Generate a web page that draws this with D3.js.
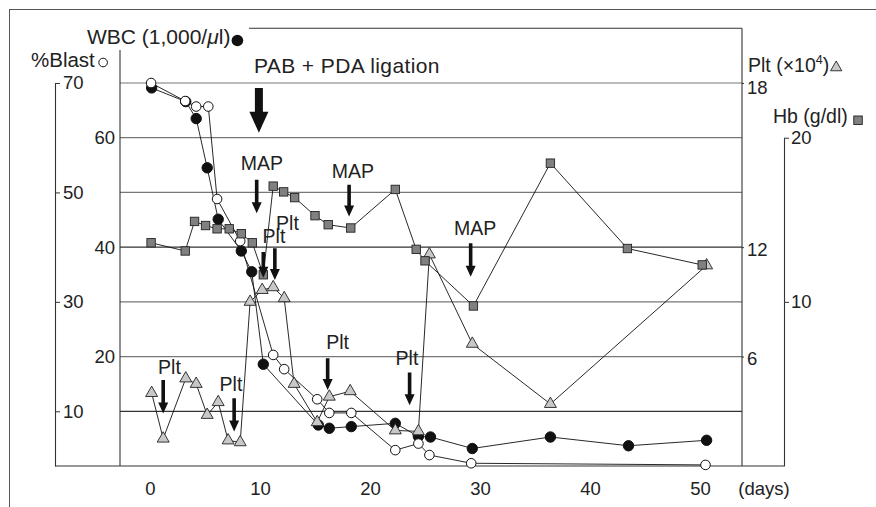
<!DOCTYPE html>
<html><head><meta charset="utf-8">
<script src="https://cdn.jsdelivr.net/npm/d3@7"></script>
<style>
html,body{margin:0;padding:0;background:#fff;}
svg text{font-family:"Liberation Sans",Arial,Helvetica,sans-serif;fill:#222;}
</style></head>
<body>
<svg id="chart" width="876" height="507"></svg>
<script>
// ---- data ----
const blastDays = [0.1, 3.2, 4.2, 5.3, 6.1, 8.2, 11.2, 12.2, 15.2, 16.3, 18.3, 22.3, 24.4, 25.4, 29.2, 50.5];
const blastVals = [70.0, 66.7, 65.7, 65.7, 48.8, 41.1, 20.3, 17.7, 12.2, 9.7, 9.7, 2.9, 4.1, 2.0, 0.5, 0.2];

const wbcDays = [0.15, 3.25, 4.2, 5.2, 6.2, 8.3, 9.25, 10.3, 15.3, 16.3, 18.3, 22.3, 24.4, 25.5, 29.3, 36.4, 43.5, 50.6];
const wbcVals = [69.1, 66.6, 63.5, 54.5, 45.1, 39.3, 35.5, 18.6, 7.5, 6.9, 7.2, 7.8, 5.4, 5.3, 3.2, 5.3, 3.7, 4.7];

const pltDays = [0.15, 1.2, 3.25, 4.2, 5.2, 6.2, 7.1, 8.2, 9.1, 10.2, 11.2, 12.2, 13.1, 15.2, 16.3, 18.2, 22.3, 24.4, 25.4, 29.3, 36.4, 50.6];
const pltVals = [4.0, 1.5, 4.8, 4.5, 2.8, 3.5, 1.4, 1.3, 9.0, 9.65, 9.8, 9.2, 4.5, 2.4, 3.8, 4.1, 1.95, 1.9, 11.6, 6.7, 3.4, 11.0];

const hbDays = [0.1, 3.2, 4.05, 5.05, 6.1, 7.2, 8.3, 9.3, 10.3, 11.2, 12.15, 13.15, 15.0, 16.2, 18.25, 22.3, 24.2, 25.0, 29.4, 36.4, 43.4, 50.2];
const hbVals = [13.6, 13.1, 14.9, 14.65, 14.45, 14.45, 14.15, 13.6, 11.65, 17.05, 16.7, 16.35, 15.25, 14.7, 14.5, 16.85, 13.2, 12.5, 9.75, 18.45, 13.25, 12.25];

const xTicks = [0, 10, 20, 30, 40, 50];
const leftOuterTicks = [10, 30, 50, 70];
const leftInnerTicks = [20, 40, 60];
const gridVals = [10, 20, 30, 40, 50, 60, 70];
const pltTicks = [6, 12, 18];
const hbTicks = [10, 20];

// annotations: label, arrow day, arrow tail value, arrow tip value, label day, label value (left scale)
const annLabels = ["MAP", "MAP", "MAP", "Plt", "Plt", "Plt", "Plt", "Plt", "Plt"];
const annDays   = [9.7, 18.1, 29.15, 1.2, 7.65, 10.3, 11.35, 16.15, 23.6];
const annTails  = [52.3, 51.4, 40.7, 15.7, 12.4, 39.1, 39.8, 19.7, 17.1];
const annTips   = [46.2, 45.6, 34.6, 9.6, 6.3, 34.4, 34.0, 13.9, 11.1];
const annLblDay = [10.18, 18.45, 29.55, 1.77, 7.36, 11.27, 12.5, 17.05, 23.36];
const annLblVal = [54.1, 52.6, 42.2, 16.8, 13.7, 40.7, 43.1, 21.3, 18.5];

// ---- scales ----
const svg = d3.select("#chart");
const x = d3.scaleLinear().domain([0, 50]).range([150, 700]);
const yL = d3.scaleLinear().domain([0, 70]).range([466, 83]);
const yPlt = d3.scaleLinear().domain([0, 12, 18]).range([yL(0), yL(40), yL(70)]);
const yHb = d3.scaleLinear().domain([0, 20]).range([yL(0), yL(60)]);

const plotL = 120, plotR = 742, hbX = 784, outerX = 55;

// outer frame
svg.append("rect").attr("x", 9.5).attr("y", 9.5).attr("width", 900).attr("height", 600)
  .attr("fill", "none").attr("stroke", "#555").attr("stroke-width", 1);

// gridlines
svg.append("g").selectAll("line").data(gridVals).join("line")
  .attr("x1", plotL).attr("x2", plotR)
  .attr("y1", d => yL(d)).attr("y2", d => yL(d))
  .attr("stroke", d => (d === 40 || d === 10) ? "#333" : "#777")
  .attr("stroke-width", 1.2);

// plot box
const frame = svg.append("g").attr("stroke", "#333").attr("stroke-width", 1.1);
frame.append("line").attr("x1", 249).attr("x2", plotR).attr("y1", yL(80)).attr("y2", yL(80));
frame.append("line").attr("x1", plotL).attr("x2", plotL).attr("y1", 50).attr("y2", yL(0));
frame.append("line").attr("x1", plotR).attr("x2", plotR).attr("y1", yL(80)).attr("y2", yL(0));
frame.append("line").attr("x1", outerX).attr("x2", hbX).attr("y1", yL(0)).attr("y2", yL(0));

// left outer axis (%Blast)
const axOuter = svg.append("g").attr("transform", `translate(${outerX},0)`)
  .call(d3.axisRight(yL).tickValues(leftOuterTicks).tickSize(5).tickSizeOuter(0).tickPadding(3));
// left inner axis (WBC)
const axInner = svg.append("g").attr("transform", `translate(${plotL},0)`)
  .call(d3.axisLeft(yL).tickValues(leftInnerTicks).tickSize(0).tickPadding(5));
axInner.select(".domain").remove();
// Plt axis
const axPlt = svg.append("g").attr("transform", `translate(${plotR},0)`)
  .call(d3.axisRight(yPlt).tickValues(pltTicks).tickSize(2).tickSizeOuter(0).tickPadding(3));
axPlt.select(".domain").remove();
// Hb axis
const axHb = svg.append("g").attr("transform", `translate(${hbX},0)`)
  .call(d3.axisRight(yHb).tickValues(hbTicks).tickSize(5).tickSizeOuter(0).tickPadding(2));
// X axis
const axX = svg.append("g").attr("transform", `translate(0,${yL(0)})`)
  .call(d3.axisBottom(x).tickValues(xTicks).tickSize(0).tickPadding(16));
axX.select(".domain").remove();

[axOuter, axInner, axPlt, axHb, axX].forEach(g => {
  g.attr("font-family", null).attr("font-size", null);
  g.selectAll("text").attr("font-size", 18.5).attr("fill", "#222");
  g.selectAll("line").attr("stroke", "#333");
  g.selectAll(".domain").attr("stroke", "#333").attr("stroke-width", 1.1);
});
axPlt.selectAll(".tick text").attr("dy", (d) => d === 18 ? "0.55em" : "0.45em");

svg.append("text").attr("x", 764).attr("y", 495).attr("text-anchor", "middle")
  .attr("font-size", 18.5).text("(days)");

// ---- lines ----
const lineG = svg.append("g").attr("fill", "none").attr("stroke", "#111").attr("stroke-width", 0.9);
function drawLine(days, vals, ys) {
  lineG.append("path")
    .attr("d", d3.line().x((d, i) => x(days[i])).y((d, i) => ys(vals[i]))(vals));
}
drawLine(hbDays, hbVals, yHb);
drawLine(pltDays, pltVals, yPlt);
drawLine(blastDays, blastVals, yL);
drawLine(wbcDays, wbcVals, yL);

// ---- markers ----
svg.append("g").selectAll("circle").data(wbcVals).join("circle")
  .attr("cx", (d, i) => x(wbcDays[i])).attr("cy", d => yL(d)).attr("r", 5.2)
  .attr("fill", "#111").attr("stroke", "#111");
svg.append("g").selectAll("circle").data(blastVals).join("circle")
  .attr("cx", (d, i) => x(blastDays[i])).attr("cy", d => yL(d)).attr("r", 4.8)
  .attr("fill", "#fff").attr("stroke", "#111").attr("stroke-width", 1);
const tri = d3.symbol().type(d3.symbolTriangle).size(62);
svg.append("g").selectAll("path").data(pltVals).join("path")
  .attr("d", tri)
  .attr("transform", (d, i) => `translate(${x(pltDays[i])},${yPlt(d)})`)
  .attr("fill", "#c8c8c8").attr("stroke", "#222").attr("stroke-width", 0.9);
svg.append("g").selectAll("rect").data(hbVals).join("rect")
  .attr("x", (d, i) => x(hbDays[i]) - 4.2).attr("y", d => yHb(d) - 4.2)
  .attr("width", 8.4).attr("height", 8.4)
  .attr("fill", "#808080").attr("stroke", "#222").attr("stroke-width", 0.9);

// ---- arrows ----
function arrowPath(cx, top, tip, w, hw, hl) {
  return `M${cx - w / 2},${top}L${cx + w / 2},${top}L${cx + w / 2},${tip - hl}L${cx + hw / 2},${tip - hl}` +
    `L${cx},${tip}L${cx - hw / 2},${tip - hl}L${cx - w / 2},${tip - hl}Z`;
}
const annG = svg.append("g");
annLabels.forEach((lbl, i) => {
  annG.append("path")
    .attr("d", arrowPath(x(annDays[i]), yL(annTails[i]), yL(annTips[i]), 3.6, 10, 11))
    .attr("fill", "#111");
  annG.append("text").attr("x", x(annLblDay[i])).attr("y", yL(annLblVal[i]))
    .attr("text-anchor", "middle").attr("font-size", 19.5).text(lbl);
});
// PAB + PDA ligation
annG.append("path").attr("d", arrowPath(x(9.9), yL(69.1), yL(60.9), 8, 19, 21)).attr("fill", "#111");
annG.append("text").attr("x", x(9.45)).attr("y", yL(71.8)).attr("font-size", 21)
  .attr("letter-spacing", 0.4).text("PAB + PDA ligation");

// ---- axis titles / legend labels ----
const wbcT = svg.append("text").attr("x", 87).attr("y", 44).attr("font-size", 21);
wbcT.append("tspan").text("WBC (1,000/");
wbcT.append("tspan").attr("font-style", "italic").text("μ");
wbcT.append("tspan").text("l)");
const wb = wbcT.node().getBBox();
svg.append("circle").attr("cx", wb.x + wb.width + 7).attr("cy", 40.5).attr("r", 5.8).attr("fill", "#111");

const blT = svg.append("text").attr("x", 31).attr("y", 67).attr("font-size", 20.5).text("%Blast");
const bb = blT.node().getBBox();
svg.append("circle").attr("cx", bb.x + bb.width + 8).attr("cy", 62.5).attr("r", 4.3)
  .attr("fill", "#fff").attr("stroke", "#111").attr("stroke-width", 1);

const pT = svg.append("text").attr("x", 748).attr("y", 72).attr("font-size", 19.5);
pT.append("tspan").text("Plt (×10");
pT.append("tspan").attr("font-size", 12.5).attr("dy", -8.5).text("4");
pT.append("tspan").attr("dy", 8.5).text(")");
const pb = pT.node().getBBox();
svg.append("path").attr("d", d3.symbol().type(d3.symbolTriangle).size(55))
  .attr("transform", `translate(${pb.x + pb.width + 7},${67.5})`)
  .attr("fill", "#c8c8c8").attr("stroke", "#222").attr("stroke-width", 0.9);

const hT = svg.append("text").attr("x", 773).attr("y", 123).attr("font-size", 19.5).text("Hb (g/dl)");
const hbb = hT.node().getBBox();
svg.append("rect").attr("x", hbb.x + hbb.width + 6).attr("y", 116).attr("width", 8.5).attr("height", 8.5)
  .attr("fill", "#808080").attr("stroke", "#222").attr("stroke-width", 0.9);
</script>
</body></html>
